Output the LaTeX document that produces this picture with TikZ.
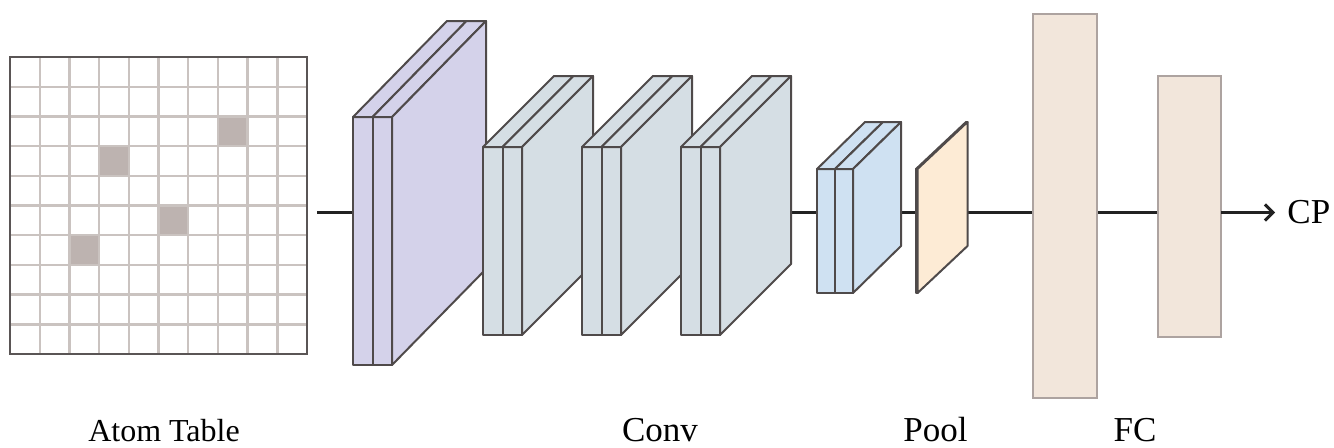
\documentclass[tikz,border=0pt]{standalone}
\usepackage{fontspec}
\setmainfont{Liberation Serif}
\usetikzlibrary{arrows.meta}
\definecolor{gridcol}{HTML}{CAC3C0}
\definecolor{bordercol}{HTML}{5A5555}
\definecolor{cellcol}{HTML}{BDB3B0}
\definecolor{purplecol}{HTML}{D4D2EA}
\definecolor{convcol}{HTML}{D5DEE4}
\definecolor{bluecol}{HTML}{CFE1F2}
\definecolor{poolcol}{HTML}{FDEBD5}
\definecolor{fccol}{HTML}{F2E6DB}
\definecolor{fcline}{HTML}{ADA3A0}
\definecolor{edgecol}{HTML}{4F4A4A}
\definecolor{linecol}{HTML}{222222}
\tikzset{
  gridline/.style={draw=gridcol,line width=1.2pt},
  gridborder/.style={draw=bordercol,line width=1.4pt},
  cellshade/.style={fill=cellcol},
  blockline/.style={draw=edgecol,line width=1pt,line join=round},
  mainline/.style={draw=linecol,line width=1.5pt},
  fcbox/.style={draw=fcline,fill=fccol,line width=0.9pt,inner sep=0pt},
  lbl/.style={inner sep=0pt,anchor=base,font=\fontsize{17.5}{20}\selectfont}
}
% #1 x, #2 top, #3 bottom, #4 slab width, #5 dx, #6 dy, #7 colour, #8 number of slabs
\newcommand{\cnnblock}[8]{%
  \foreach \cbi in {1,...,#8}{%
    \pgfmathsetmacro{\cbxa}{#1+(\cbi-1)*#4}%
    \pgfmathsetmacro{\cbxb}{\cbxa+#4}%
    \filldraw[blockline,fill=#7] (\cbxa,#2) rectangle (\cbxb,#3);
    \filldraw[blockline,fill=#7] (\cbxa,#2) -- (\cbxb,#2) -- (\cbxb+#5,#2-#6) -- (\cbxa+#5,#2-#6) -- cycle;
  }%
  \pgfmathsetmacro{\cbxe}{#1+#8*#4}%
  \filldraw[blockline,fill=#7] (\cbxe,#2) -- (\cbxe+#5,#2-#6) -- (\cbxe+#5,#3-#6) -- (\cbxe,#3) -- cycle;
}
\begin{document}
\begin{tikzpicture}[x=0.5pt,y=-0.5pt]
\useasboundingbox (0,0) rectangle (1334,447);
\fill[white] (0,0) rectangle (1334,447);
% atom table grid
\foreach \c/\r in {7/2,3/3,5/5,2/6}
  \fill[cellshade] ({10+\c*29.7},{57+\r*29.7}) rectangle ++(29.7,29.7);
\foreach \k in {1,...,9}{
  \draw[gridline] ({10+\k*29.7},57) -- ({10+\k*29.7},354);
  \draw[gridline] (10,{57+\k*29.7}) -- (307,{57+\k*29.7});
}
\draw[gridborder] (10,57) rectangle (307,354);
% main line (behind the layers)
\coordinate (in) at (317,212.5);
\coordinate (out) at (1221,212.5);
\draw[mainline] (in) -- (out);
% conv layers
\cnnblock{353}{117}{365}{19.5}{94}{96}{purplecol}{2}
\cnnblock{483}{147}{335}{19.5}{71}{71}{convcol}{2}
\cnnblock{582}{147}{335}{19.5}{71}{71}{convcol}{2}
\cnnblock{681}{147}{335}{19.5}{71}{71}{convcol}{2}
\cnnblock{817}{169}{293}{18}{48}{47}{bluecol}{2}
% pool
\cnnblock{916}{169}{293}{1.5}{50}{47}{poolcol}{1}
% fully connected
\node[fcbox,minimum width=32pt,minimum height=192pt] (fc1) at (1065,206) {};
\node[fcbox,minimum width=31.5pt,minimum height=130.5pt] (fc2) at (1189.5,206.5) {};
% output
\node[lbl,anchor=base west] (cp) at (1287,223) {CP};
\draw[mainline,-{Straight Barb[length=4pt,width=8pt]},shorten >=6pt] (out) -- (cp.west |- out);
% labels
\node[lbl,font=\fontsize{16}{19}\selectfont] (atom) at (164,441) {Atom Table};
\node[lbl] (conv) at (660,441) {Conv};
\node[lbl] (pool) at (935.5,441) {Pool};
\node[lbl] (fc) at (1135,441) {FC};
\end{tikzpicture}
\end{document}
